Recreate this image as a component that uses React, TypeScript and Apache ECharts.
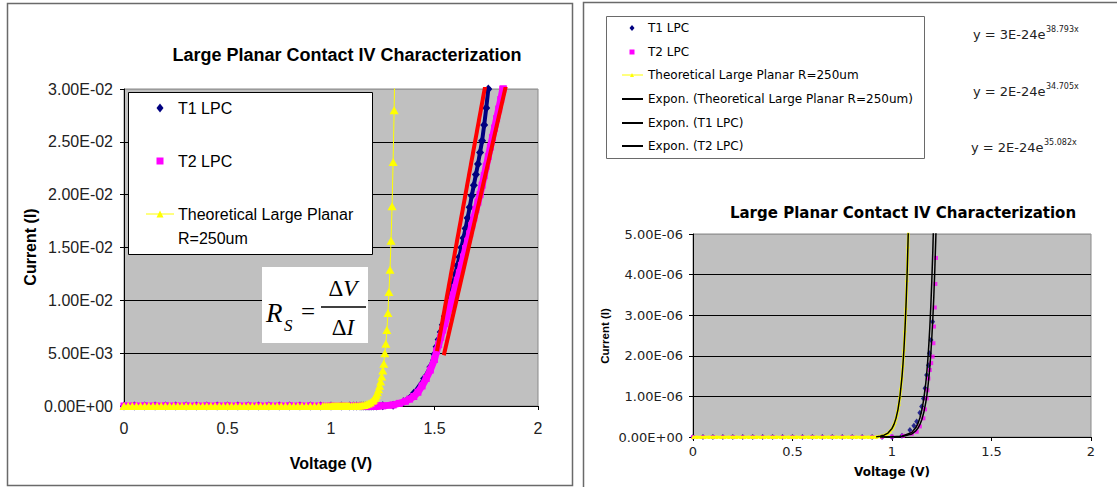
import React, { useEffect, useRef } from 'react';
import * as echarts from 'echarts';

// ---------- tick labels ----------
const X_TICKS = [0, 0.5, 1, 1.5, 2];
const LEFT_Y_TICKS = [0, 0.005, 0.01, 0.015, 0.02, 0.025, 0.03];
const RIGHT_Y_TICKS = [0, 1e-6, 2e-6, 3e-6, 4e-6, 5e-6];

// ---------- Theoretical Large Planar R=250um ----------
const theoreticalV = [
  0, 0.02, 0.04, 0.06, 0.08, 0.1, 0.12, 0.14, 0.16, 0.18,
  0.2, 0.22, 0.24, 0.26, 0.28, 0.3, 0.32, 0.34, 0.36, 0.38,
  0.4, 0.42, 0.44, 0.46, 0.48, 0.5, 0.52, 0.54, 0.56, 0.58,
  0.6, 0.62, 0.64, 0.66, 0.68, 0.7, 0.72, 0.74, 0.76, 0.78,
  0.8, 0.82, 0.84, 0.86, 0.88, 0.9, 0.92, 0.94, 0.96, 0.97,
  0.98, 0.99, 1.0, 1.005, 1.01, 1.015, 1.02, 1.025, 1.03, 1.035,
  1.04, 1.045, 1.05, 1.055, 1.06, 1.065, 1.07, 1.075, 1.08, 1.085,
  1.09, 1.1, 1.11, 1.12, 1.13, 1.14, 1.15, 1.16, 1.17, 1.18,
  1.19, 1.2, 1.205, 1.21, 1.215, 1.22, 1.225, 1.23, 1.235, 1.24,
  1.245, 1.25, 1.255, 1.26, 1.265, 1.27, 1.275, 1.28, 1.285, 1.29,
  1.295, 1.3, 1.305, 1.31,
];
const theoreticalI = [
  0, 0, 0, 0, 0, 0, 0, 0, 0, 0,
  0, 0, 0, 0, 0, 0, 0, 0, 0, 0,
  0, 0, 0, 0, 0, 0, 0, 0, 0, 0,
  0, 0, 0, 0, 0, 0, 0, 0, 0, 0,
  0, 0, 0, 0, 0, 0, 0, 2e-8, 4.5e-8, 6.6e-8,
  9.7e-8, 1.43e-7, 2.11e-7, 2.56e-7, 3.11e-7, 3.78e-7, 4.59e-7, 5.57e-7, 6.76e-7, 8.21e-7,
  9.97e-7, 1.21e-6, 1.47e-6, 1.78e-6, 2.16e-6, 2.63e-6, 3.19e-6, 3.87e-6, 4.7e-6, 5.71e-6,
  6.93e-6, 1.02e-5, 1.51e-5, 2.22e-5, 3.27e-5, 4.82e-5, 7.1e-5, 1.05e-4, 1.54e-4, 2.27e-4,
  3.35e-4, 4.94e-4, 6.0e-4, 7.3e-4, 8.8e-4, 1.07e-3, 1.3e-3, 1.58e-3, 1.92e-3, 2.33e-3,
  2.8e-3, 3.35e-3, 4.0e-3, 5.0e-3, 5.9e-3, 7.2e-3, 8.8e-3, 1.08e-2, 1.29e-2, 1.565e-2,
  1.89e-2, 2.31e-2, 2.8e-2, 3.4e-2,
];

// ---------- T1 LPC ----------
const t1V = [
  0, 0.05, 0.1, 0.15, 0.2, 0.25, 0.3, 0.35, 0.4, 0.45,
  0.5, 0.55, 0.6, 0.65, 0.7, 0.75, 0.8, 0.85, 0.9, 0.95,
  1.0, 1.05, 1.09, 1.11, 1.124, 1.14, 1.149, 1.158, 1.166, 1.174,
  1.183, 1.188, 1.196, 1.204, 1.22, 1.25, 1.3, 1.35, 1.4, 1.45,
  1.48, 1.5, 1.51, 1.52, 1.53, 1.54, 1.55, 1.56, 1.57, 1.58,
  1.59, 1.6, 1.61, 1.62, 1.63, 1.64, 1.65, 1.66, 1.67, 1.68,
  1.69, 1.7, 1.71, 1.72, 1.73, 1.74, 1.75, 1.76, 1.77,
];
const t1I = [
  0, 0, 0, 0, 0, 0, 0, 0, 0, 0,
  0, 0, 0, 0, 0, 0, 0, 0, 0, 0,
  0, 3e-8, 1.7e-7, 2.8e-7, 3.8e-7, 6e-7, 7.5e-7, 9.5e-7, 1.2e-6, 1.53e-6,
  1.77e-6, 2.06e-6, 2.39e-6, 2.84e-6, 5.5e-6, 1.6e-5, 8e-5, 4e-4, 1.2e-3, 2.6e-3,
  3.7e-3, 4.9e-3, 0.0056, 0.0063, 0.007, 0.0077, 0.0085, 0.0093, 0.01, 0.0108,
  0.0116, 0.0125, 0.0133, 0.0141, 0.015, 0.0159, 0.0168, 0.0178, 0.0188, 0.0199,
  0.0209, 0.0219, 0.0229, 0.024, 0.0251, 0.0266, 0.0282, 0.03, 0.0318,
];

// ---------- T2 LPC ----------
const t2V = [
  0, 0.05, 0.1, 0.15, 0.2, 0.25, 0.3, 0.35, 0.4, 0.45,
  0.5, 0.55, 0.6, 0.65, 0.7, 0.75, 0.8, 0.85, 0.9, 0.95,
  1.0, 1.055, 1.1, 1.124, 1.14, 1.158, 1.166, 1.174, 1.178, 1.183,
  1.19, 1.197, 1.204, 1.208, 1.211, 1.215, 1.218, 1.221, 1.226, 1.25,
  1.3, 1.33, 1.36, 1.38, 1.4, 1.42, 1.44, 1.46, 1.48, 1.5,
  1.51, 1.52, 1.53, 1.54, 1.55, 1.56, 1.57, 1.58, 1.59, 1.6,
  1.61, 1.62, 1.63, 1.64, 1.65, 1.66, 1.67, 1.68, 1.69, 1.7,
  1.71, 1.72, 1.73, 1.74, 1.75, 1.76, 1.77, 1.78, 1.79, 1.8,
  1.81, 1.82, 1.83, 1.84,
];
const t2I = [
  0, 0, 0, 0, 0, 0, 0, 0, 0, 0,
  0, 0, 0, 0, 0, 0, 0, 0, 0, 0,
  1e-8, 3e-8, 8e-8, 1.3e-7, 2.6e-7, 4.6e-7, 6.8e-7, 9.5e-7, 1.15e-6, 1.44e-6,
  1.65e-6, 1.82e-6, 1.98e-6, 2.31e-6, 2.72e-6, 3.19e-6, 3.77e-6, 4.41e-6, 5.2e-6, 1.2e-5,
  1.0e-4, 2.5e-4, 4.5e-4, 6.5e-4, 9.0e-4, 1.3e-3, 1.9e-3, 2.6e-3, 3.4e-3, 4.4e-3,
  0.0052, 0.0058, 0.0065, 0.0072, 0.0078, 0.0085, 0.0092, 0.0098, 0.0105, 0.0112,
  0.0119, 0.0126, 0.0133, 0.0141, 0.0149, 0.0156, 0.0163, 0.0171, 0.0178, 0.0186,
  0.0193, 0.02, 0.0209, 0.0218, 0.0227, 0.0236, 0.0245, 0.0254, 0.0263, 0.0272,
  0.0281, 0.029, 0.03, 0.031,
];

// ---------- hand-drawn series-resistance lines (left chart) ----------
const redLineAV = [1.512, 1.745];
const redLineAI = [0.0052, 0.0303];
const redLineBV = [1.545, 1.845];
const redLineBI = [0.0048, 0.0303];

// ---------- exponential trendlines (right chart) ----------
const fitTheoV = [0.92, 0.94, 0.96, 0.98, 1.0, 1.01, 1.02, 1.03, 1.04, 1.05, 1.055, 1.06, 1.065, 1.07, 1.075, 1.08, 1.085, 1.09];
const fitTheoI = [0, 2e-8, 4.5e-8, 9.7e-8, 2.11e-7, 3.11e-7, 4.59e-7, 6.76e-7, 9.97e-7, 1.47e-6, 1.78e-6, 2.16e-6, 2.63e-6, 3.19e-6, 3.87e-6, 4.7e-6, 5.71e-6, 6.93e-6];
const fitT1V = [0.94, 1.0, 1.05, 1.1, 1.12, 1.13, 1.14, 1.15, 1.16, 1.17, 1.175, 1.18, 1.185, 1.19, 1.195, 1.2, 1.205, 1.21];
const fitT1I = [0, 3.4e-9, 2.0e-8, 1.15e-7, 2.32e-7, 3.29e-7, 4.68e-7, 6.64e-7, 9.43e-7, 1.34e-6, 1.6e-6, 1.9e-6, 2.27e-6, 2.7e-6, 3.22e-6, 3.84e-6, 4.57e-6, 5.45e-6];
const fitT2V = [0.94, 1.0, 1.05, 1.1, 1.12, 1.13, 1.14, 1.15, 1.16, 1.17, 1.175, 1.18, 1.185, 1.19, 1.195, 1.2, 1.205, 1.21, 1.215, 1.22, 1.225];
const fitT2I = [0, 2.4e-9, 1.34e-8, 7.6e-8, 1.52e-7, 2.15e-7, 3.04e-7, 4.3e-7, 6.08e-7, 8.61e-7, 1.02e-6, 1.22e-6, 1.45e-6, 1.72e-6, 2.05e-6, 2.44e-6, 2.9e-6, 3.45e-6, 4.1e-6, 4.88e-6, 5.8e-6];

const equations = [
  { base: 'y = 3E-24e', exp: '38.793x' },
  { base: 'y = 2E-24e', exp: '34.705x' },
  { base: 'y = 2E-24e', exp: '35.082x' },
];

const TITLE = 'Large Planar Contact IV Characterization';

const NAVY = '#000080';
const PINK = '#FF00FF';
const YELLOW = '#FFFF00';
const RED = '#FF0000';

const zip = (v: number[], i: number[]) => v.map((x, k) => [x, i[k]]);

function sci(v: number): string {
  if (Math.abs(v) < 1e-15) return '0.00E+00';
  const [m, e] = v.toExponential(2).split('e');
  const n = parseInt(e, 10);
  return `${m}E${n < 0 ? '-' : '+'}${String(Math.abs(n)).padStart(2, '0')}`;
}

const LS = 'Liberation Sans, Arial, sans-serif';
const DV = 'DejaVu Sans, sans-serif';
const SERIF = 'Liberation Serif, Times New Roman, serif';

function txt(x: number, y: number, text: string, o: any = {}) {
  return {
    type: 'text',
    x,
    y,
    z: 100,
    silent: true,
    rotation: o.rotation || 0,
    style: {
      text,
      fill: o.fill || '#000',
      fontSize: o.fontSize || 12,
      fontFamily: o.fontFamily || LS,
      fontWeight: o.fontWeight || 'normal',
      fontStyle: o.fontStyle || 'normal',
      textAlign: o.align || 'left',
      textVerticalAlign: o.vAlign || 'middle',
      rich: o.rich,
    },
  };
}

function diamond(cx: number, cy: number, w: number, h: number, fill: string) {
  return {
    type: 'polygon', z: 101, silent: true,
    shape: { points: [[cx, cy - h / 2], [cx + w / 2, cy], [cx, cy + h / 2], [cx - w / 2, cy]] },
    style: { fill },
  };
}
function square(cx: number, cy: number, s: number, fill: string) {
  return { type: 'rect', z: 101, silent: true, shape: { x: cx - s / 2, y: cy - s / 2, width: s, height: s }, style: { fill } };
}
function tri(cx: number, cy: number, s: number, fill: string) {
  return {
    type: 'polygon', z: 102, silent: true,
    shape: { points: [[cx, cy - s / 2], [cx + s / 2, cy + s / 2], [cx - s / 2, cy + s / 2]] },
    style: { fill },
  };
}
function hline(x1: number, x2: number, y: number, stroke: string, w: number) {
  return { type: 'line', z: 101, silent: true, shape: { x1, y1: y, x2, y2: y }, style: { stroke, lineWidth: w } };
}

function axisPair(gridIndex: number, yTicks: number[], font: string, fontSize: number, xMargin: number, yMargin: number) {
  const n = yTicks.length;
  const gridColors = yTicks.map((_, k) => (k === n - 1 ? '#9a9a9a' : '#000'));
  const x = {
    type: 'value', gridIndex,
    min: X_TICKS[0], max: X_TICKS[X_TICKS.length - 1], interval: X_TICKS[1] - X_TICKS[0],
    axisLine: { show: true, onZero: false, lineStyle: { color: '#000', width: 1 } },
    axisTick: { show: true, length: 4, lineStyle: { color: '#000' } },
    axisLabel: { fontSize, fontFamily: font, color: '#222', margin: xMargin, formatter: (v: number) => String(v) },
    splitLine: { show: false },
  };
  const y = {
    type: 'value', gridIndex,
    min: yTicks[0], max: yTicks[n - 1], interval: yTicks[1] - yTicks[0],
    axisLine: { show: true, onZero: false, lineStyle: { color: '#000', width: 1 } },
    axisTick: { show: true, length: 4, lineStyle: { color: '#000' } },
    axisLabel: { fontSize, fontFamily: font, color: '#222', margin: yMargin, formatter: (v: number) => sci(v) },
    splitLine: { show: true, lineStyle: { color: gridColors, width: 1 } },
  };
  return { x, y };
}

export default function App() {
  const ref = useRef<HTMLDivElement>(null);

  useEffect(() => {
    if (!ref.current) return;
    const chart = echarts.init(ref.current, undefined, { renderer: 'svg' });

    const L = axisPair(0, LEFT_Y_TICKS, LS, 16, 14, 11);
    const R = axisPair(1, RIGHT_Y_TICKS, DV, 13, 8, 10);

    const theo = zip(theoreticalV, theoreticalI);
    const t1 = zip(t1V, t1I);
    const t2 = zip(t2V, t2I);

    const graphic: any[] = [
      // panel frames
      { type: 'rect', z: 1, silent: true, shape: { x: 7.5, y: 3.5, width: 565, height: 482 }, style: { fill: 'none', stroke: '#6a6a6a', lineWidth: 1.5 } },
      { type: 'rect', z: 1, silent: true, shape: { x: 583.5, y: 2.5, width: 600, height: 500 }, style: { fill: 'none', stroke: '#6a6a6a', lineWidth: 1.5 } },

      // left titles
      txt(347, 55, TITLE, { fontSize: 18, fontWeight: 'bold', align: 'center' }),
      txt(331, 463, 'Voltage (V)', { fontSize: 16, fontWeight: 'bold', align: 'center' }),
      txt(30, 247, 'Current (I)', { fontSize: 16, fontWeight: 'bold', align: 'center', rotation: Math.PI / 2 }),

      // left legend
      { type: 'rect', z: 99, silent: true, shape: { x: 128.5, y: 92.5, width: 244, height: 162 }, style: { fill: '#fff', stroke: '#000', lineWidth: 1 } },
      diamond(160, 108, 7, 9, NAVY),
      txt(178, 108, 'T1 LPC', { fontSize: 16 }),
      square(160, 161, 7, PINK),
      txt(178, 161, 'T2 LPC', { fontSize: 16 }),
      hline(146, 174, 214, YELLOW, 1),
      tri(160, 214, 7, YELLOW),
      txt(178, 214, 'Theoretical Large Planar', { fontSize: 16 }),
      txt(178, 238, 'R=250um', { fontSize: 16 }),

      // Rs formula box
      { type: 'rect', z: 99, silent: true, shape: { x: 262, y: 267, width: 106, height: 76 }, style: { fill: '#fff' } },
      txt(266, 313, 'R', { fontSize: 27, fontFamily: SERIF, fontStyle: 'italic' }),
      txt(284, 325, 'S', { fontSize: 17, fontFamily: SERIF, fontStyle: 'italic' }),
      txt(308, 311, '=', { fontSize: 25, fontFamily: SERIF, align: 'center' }),
      hline(321, 366, 307, '#000', 1.3),
      txt(343, 288, '{a|Δ}{b|V}', {
        align: 'center', fontFamily: SERIF, fontSize: 23,
        rich: { a: { fontSize: 23, fontFamily: SERIF }, b: { fontSize: 23, fontFamily: SERIF, fontStyle: 'italic' } },
      }),
      txt(343, 327, '{a|Δ}{b|I}', {
        align: 'center', fontFamily: SERIF, fontSize: 23,
        rich: { a: { fontSize: 23, fontFamily: SERIF }, b: { fontSize: 23, fontFamily: SERIF, fontStyle: 'italic' } },
      }),

      // right legend
      { type: 'rect', z: 99, silent: true, shape: { x: 606.5, y: 16.5, width: 318, height: 142 }, style: { fill: '#fff', stroke: '#6a6a6a', lineWidth: 1 } },
      diamond(632, 28, 5, 6, NAVY),
      txt(648, 28, 'T1 LPC', { fontSize: 12, fontFamily: DV }),
      square(632, 52, 5, PINK),
      txt(648, 52, 'T2 LPC', { fontSize: 12, fontFamily: DV }),
      hline(622, 643, 75, YELLOW, 1),
      tri(632, 75, 4, YELLOW),
      txt(648, 75, 'Theoretical Large Planar R=250um', { fontSize: 12, fontFamily: DV }),
      hline(622, 643, 99, '#000', 2),
      txt(648, 99, 'Expon. (Theoretical Large Planar R=250um)', { fontSize: 12, fontFamily: DV }),
      hline(622, 643, 123, '#000', 2),
      txt(648, 123, 'Expon. (T1 LPC)', { fontSize: 12, fontFamily: DV }),
      hline(622, 643, 146, '#000', 2),
      txt(648, 146, 'Expon. (T2 LPC)', { fontSize: 12, fontFamily: DV }),

      // right titles
      txt(903, 213, TITLE, { fontSize: 15, fontFamily: DV, fontWeight: 'bold', align: 'center' }),
      txt(892, 472, 'Voltage (V)', { fontSize: 12, fontFamily: DV, fontWeight: 'bold', align: 'center' }),
      txt(605, 336, 'Current (I)', { fontSize: 11.5, fontWeight: 'bold', align: 'center', rotation: Math.PI / 2 }),
    ];

    const eqPos = [
      { x: 973, y: 34 },
      { x: 973, y: 91 },
      { x: 971, y: 147 },
    ];
    equations.forEach((eq, k) => {
      const p = eqPos[k];
      graphic.push(txt(p.x, p.y, eq.base, { fontSize: 13, fontFamily: DV, fill: '#222' }));
      graphic.push(txt(p.x + 73, p.y - 5, eq.exp, { fontSize: 8, fontFamily: DV, fill: '#222' }));
    });

    const option: any = {
      animation: false,
      backgroundColor: '#fff',
      grid: [
        { left: 124, top: 89, width: 414, height: 317, show: true, backgroundColor: '#C0C0C0', borderColor: '#8a8a8a', borderWidth: 1, containLabel: false, outerBoundsMode: 'none' },
        { left: 693, top: 234, width: 398, height: 203, show: true, backgroundColor: '#C0C0C0', borderColor: '#8a8a8a', borderWidth: 1, containLabel: false, outerBoundsMode: 'none' },
      ],
      xAxis: [L.x, R.x],
      yAxis: [L.y, R.y],
      graphic,
      series: [
        // ---- left chart ----
        {
          name: 'T1 LPC', type: 'line', xAxisIndex: 0, yAxisIndex: 0, data: t1, clip: true, z: 2,
          lineStyle: { color: NAVY, width: 4 }, itemStyle: { color: NAVY },
          symbol: 'diamond', symbolSize: [8, 9], showSymbol: true,
        },
        {
          name: 'T2 LPC', type: 'line', xAxisIndex: 0, yAxisIndex: 0, data: t2, clip: true, z: 3,
          lineStyle: { color: PINK, width: 7 }, itemStyle: { color: PINK },
          symbol: 'rect', symbolSize: 7, showSymbol: true,
        },
        {
          name: 'Theoretical Large Planar R=250um', type: 'line', xAxisIndex: 0, yAxisIndex: 0, data: theo, clip: true, z: 4,
          lineStyle: { color: YELLOW, width: 1 }, itemStyle: { color: YELLOW },
          symbol: 'triangle', symbolSize: [9, 8], showSymbol: true,
        },
        {
          name: 'Rs line A', type: 'line', xAxisIndex: 0, yAxisIndex: 0, data: zip(redLineAV, redLineAI), clip: true, z: 6,
          lineStyle: { color: RED, width: 4 }, showSymbol: false, symbol: 'none',
        },
        {
          name: 'Rs line B', type: 'line', xAxisIndex: 0, yAxisIndex: 0, data: zip(redLineBV, redLineBI), clip: true, z: 6,
          lineStyle: { color: RED, width: 4 }, showSymbol: false, symbol: 'none',
        },
        // ---- right chart ----
        {
          name: 'T1 LPC (zoom)', type: 'scatter', xAxisIndex: 1, yAxisIndex: 1, data: t1, clip: true, z: 2,
          itemStyle: { color: NAVY }, symbol: 'diamond', symbolSize: [5, 6],
        },
        {
          name: 'T2 LPC (zoom)', type: 'scatter', xAxisIndex: 1, yAxisIndex: 1, data: t2, clip: true, z: 3,
          itemStyle: { color: PINK }, symbol: 'rect', symbolSize: 4,
        },
        {
          name: 'Theoretical (zoom)', type: 'line', xAxisIndex: 1, yAxisIndex: 1, data: theo, clip: true, z: 4,
          lineStyle: { color: YELLOW, width: 2.5 }, itemStyle: { color: YELLOW },
          symbol: 'triangle', symbolSize: 4, showSymbol: true,
        },
        {
          name: 'Expon. (Theoretical Large Planar R=250um)', type: 'line', xAxisIndex: 1, yAxisIndex: 1, z: 6,
          data: zip(fitTheoV, fitTheoI), clip: true, showSymbol: false, symbol: 'none',
          lineStyle: { color: '#000', width: 1.5 },
        },
        {
          name: 'Expon. (T1 LPC)', type: 'line', xAxisIndex: 1, yAxisIndex: 1, z: 6,
          data: zip(fitT1V, fitT1I), clip: true, showSymbol: false, symbol: 'none',
          lineStyle: { color: '#000', width: 1.5 },
        },
        {
          name: 'Expon. (T2 LPC)', type: 'line', xAxisIndex: 1, yAxisIndex: 1, z: 6,
          data: zip(fitT2V, fitT2I), clip: true, showSymbol: false, symbol: 'none',
          lineStyle: { color: '#000', width: 1.5 },
        },
      ],
    };

    chart.setOption(option);
    return () => chart.dispose();
  }, []);

  return (
    <div
      ref={ref}
      style={{ position: 'absolute', left: 0, top: 0, width: 1117, height: 487, background: '#fff' }}
    />
  );
}
